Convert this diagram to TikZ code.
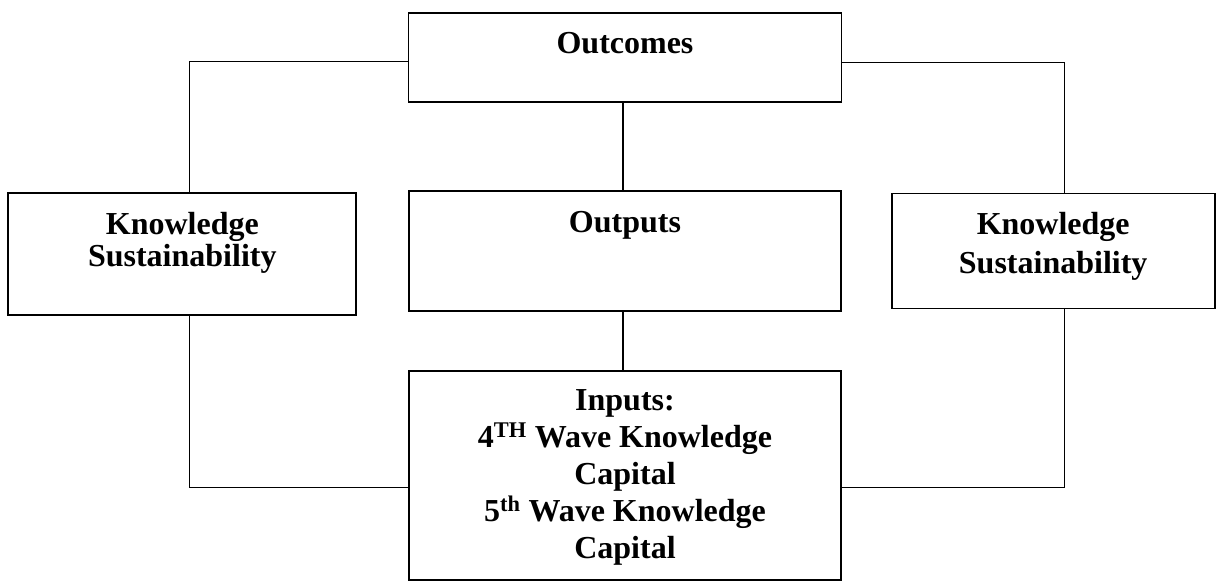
\documentclass[tikz,border=0pt]{standalone}
\usepackage{fontspec}
\setmainfont{Liberation Serif}
\usepackage{tikz}
\usetikzlibrary{positioning}
\tikzset{
    block/.style   ={rectangle, draw=black, line width=1.7pt, inner sep=0pt},
    blocktext/.style={anchor=north, inner sep=0pt, align=center, font=\bfseries\fontsize{32}{37}\selectfont},
    link/.style    ={line width=1.3pt},
}

\begin{document}
\begin{tikzpicture}[x=1pt, y=1pt]
                \useasboundingbox (0,0) rectangle (1223,-583);
                \node[block, minimum width=432pt, minimum height=120pt,
                      label={[blocktext, label distance=-21pt]north:Outputs}] (outputs) at (625,-251) {};
                \node[block, above=87pt of outputs, minimum width=433pt, minimum height=89pt,
                      label={[blocktext, label distance=-20pt]north:Outcomes}] (outcomes) {};
                \node[block, below=58pt of outputs, minimum width=432pt, minimum height=209pt,
                      label={[blocktext, label distance=-19pt]north:Inputs:\\4\textsuperscript{TH} Wave Knowledge\\Capital\\5\textsuperscript{th} Wave Knowledge\\Capital}] (inputs) {};
                \node[block, left=51pt of outputs, yshift=-3pt, minimum width=348pt, minimum height=122pt,
                      label={[blocktext, label distance=-20pt]north:Knowledge\\[-5pt]Sustainability}] (leftks) {};
                \node[block, right=49pt of outputs, minimum width=323pt, minimum height=115pt,
                      label={[blocktext, label distance=-19pt]north:Knowledge\\[2pt]Sustainability}] (rightks) {};
                \draw[link] ([yshift=-3.5pt]outcomes.west) -| ([xshift=7pt]leftks.north);
                \draw[link] ([yshift=-4.5pt]outcomes.east) -| ([xshift=11.5pt]rightks.north);
                \draw[link] ([xshift=-2pt]outcomes.south) -- ([xshift=-2pt]outputs.north);
                \draw[link] ([xshift=-2pt]outputs.south) -- ([xshift=-2pt]inputs.north);
                \draw[link] ([xshift=7pt]leftks.south) |- ([yshift=-12.5pt]inputs.west);
                \draw[link] ([xshift=11.5pt]rightks.south) |- ([yshift=-12pt]inputs.east);
            \end{tikzpicture}
\end{document}
